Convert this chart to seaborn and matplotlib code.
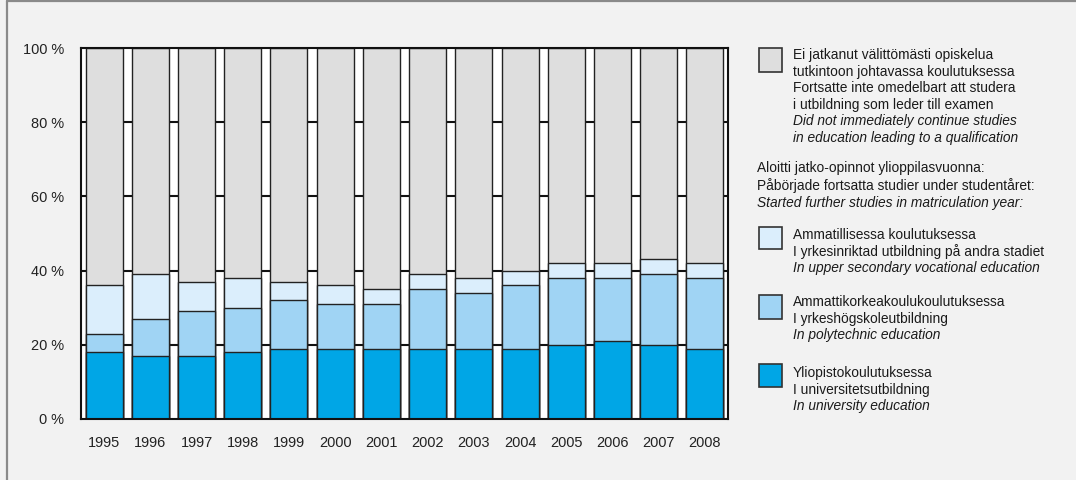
import matplotlib
matplotlib.use("Agg")
import matplotlib.pyplot as plt
from matplotlib.patches import Rectangle
from matplotlib.lines import Line2D
from matplotlib import font_manager
import seaborn as sns
import pandas as pd
import numpy as np

years = [1995, 1996, 1997, 1998, 1999, 2000, 2001, 2002, 2003, 2004, 2005, 2006, 2007, 2008]
university = [18, 17, 17, 18, 19, 19, 19, 19, 19, 19, 20, 21, 20, 19]
polytechnic = [5, 10, 12, 12, 13, 12, 12, 16, 15, 17, 18, 17, 19, 19]
vocational = [13, 12, 8, 8, 5, 5, 4, 4, 4, 4, 4, 4, 4, 4]
yticks = [0, 20, 40, 60, 80, 100]
ytick_labels = ["0 %", "20 %", "40 %", "60 %", "80 %", "100 %"]

c_none = "#dedede"
c_voc = "#dbeefc"
c_poly = "#a0d4f4"
c_univ = "#00a6e6"

sns.set_theme(style="white")
installed = {f.name for f in font_manager.fontManager.ttflist}
fam = "Liberation Sans Narrow" if "Liberation Sans Narrow" in installed else "Liberation Sans"
plt.rcParams["font.family"] = [fam, "DejaVu Sans"]

W, H = 1076, 480
fig = plt.figure(figsize=(W / 100, H / 100), dpi=100)
fig.patch.set_facecolor("#f2f2f2")

# size the text so that a reference line has its reference width
r = fig.canvas.get_renderer()
probe = fig.text(0, 0, "Ei jatkanut välittömästi opiskelua", fontsize=10)
pw = probe.get_window_extent(renderer=r).width
probe.remove()
fs = 10 * 200 / pw

def fx(x):
    return x / W

def fy(y):
    return 1 - y / H

ax = fig.add_axes([fx(81), fy(419), fx(728) - fx(81), (419 - 48) / H])
ax.set_facecolor("white")

u = np.array(university)
p = np.array(polytechnic)
v = np.array(vocational)
df = pd.DataFrame({
    "year": [str(y) for y in years],
    "total": np.full(len(years), 100),
    "voc": u + p + v,
    "poly": u + p,
    "univ": u,
})

for col, colr in [("total", c_none), ("voc", c_voc), ("poly", c_poly), ("univ", c_univ)]:
    sns.barplot(data=df, x="year", y=col, color=colr, width=0.8, ax=ax,
                edgecolor="#222222", linewidth=1.0, saturation=1, zorder=2)

ax.set_xlim(-0.5, len(years) - 0.5)
ax.set_ylim(0, 100)
ax.set_yticks(yticks)
ax.set_yticklabels(ytick_labels)
ax.set_xlabel("")
ax.set_ylabel("")
for yv in [20, 40, 60, 80]:
    ax.axhline(yv, color="#111111", linewidth=1.5, zorder=1)
ax.tick_params(axis="both", length=0, labelsize=fs * 1.05, colors="#222222")
ax.tick_params(axis="y", pad=12)
ax.tick_params(axis="x", pad=12)
for s in ax.spines.values():
    s.set_visible(True)
    s.set_color("#111111")
    s.set_linewidth(1.5)

# figure border (left and top)
fig.add_artist(Line2D([fx(7), fx(7)], [0, fy(1)], transform=fig.transFigure, color="#8a8a8a", linewidth=1.6))
fig.add_artist(Line2D([fx(7), 1], [fy(1), fy(1)], transform=fig.transFigure, color="#8a8a8a", linewidth=1.6))

tx = 793

def patch(y0, y1, colr):
    fig.add_artist(Rectangle((fx(759), fy(y1)), fx(782) - fx(759), (y1 - y0) / H,
                             transform=fig.transFigure, facecolor=colr,
                             edgecolor="#333333", linewidth=1.2))

def line(x, y, s, italic=False):
    fig.text(fx(x), fy(y), s, fontsize=fs, va="center", ha="left",
             style="italic" if italic else "normal", color="#1a1a1a")

patch(48, 72, c_none)
g1 = [("Ei jatkanut välittömästi opiskelua", False),
      ("tutkintoon johtavassa koulutuksessa", False),
      ("Fortsatte inte omedelbart att studera", False),
      ("i utbildning som leder till examen", False),
      ("Did not immediately continue studies", True),
      ("in education leading to a qualification", True)]
for i, (s, it) in enumerate(g1):
    line(tx, 55 + i * 16.6, s, it)

hdr = [("Aloitti jatko-opinnot ylioppilasvuonna:", False),
       ("Påbörjade fortsatta studier under studentåret:", False),
       ("Started further studies in matriculation year:", True)]
for i, (s, it) in enumerate(hdr):
    line(757, 168 + i * 17.3, s, it)

groups = [
    (227, 249, c_voc, 235, ["Ammatillisessa koulutuksessa", "I yrkesinriktad utbildning på andra stadiet", "In upper secondary vocational education"]),
    (295, 319, c_poly, 302, ["Ammattikorkeakoulukoulutuksessa", "I yrkeshögskoleutbildning", "In polytechnic education"]),
    (364, 387, c_univ, 373, ["Yliopistokoulutuksessa", "I universitetsutbildning", "In university education"]),
]
for y0, y1, colr, ty, lines in groups:
    patch(y0, y1, colr)
    for i, s in enumerate(lines):
        line(tx, ty + i * 16.6, s, italic=(i == 2))

fig.savefig("out.png", dpi=100, facecolor=fig.get_facecolor())
